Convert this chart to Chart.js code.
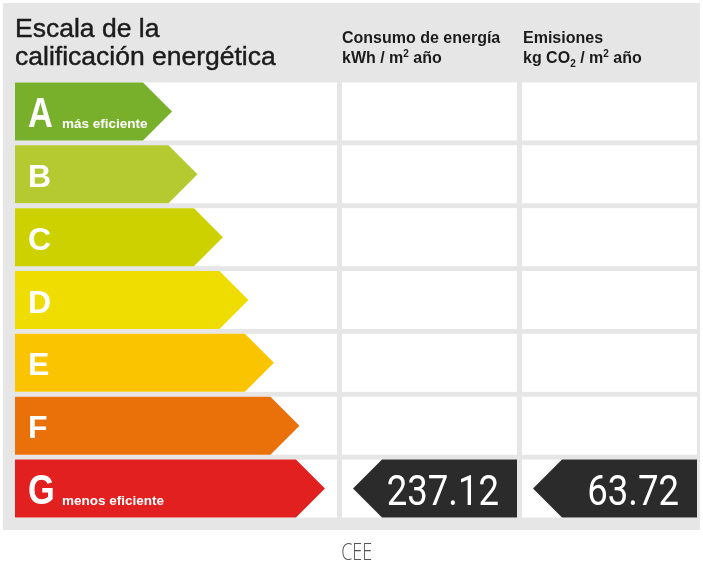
<!DOCTYPE html>
<html lang="es">
<head>
<meta charset="utf-8">
<title>Escala de la calificación energética</title>
<script src="https://cdn.jsdelivr.net/npm/chart.js@4.4.1/dist/chart.umd.min.js"></script>
<style>
  html, body { margin: 0; padding: 0; background: #fff; }
  #wrap { position: relative; width: 703px; height: 570px; overflow: hidden; }
  #grafico { position: absolute; left: 0; top: 0; }
  .cab { position: absolute; color: #1b1b1b; font-family: "Liberation Sans", Arial, sans-serif; white-space: nowrap; }
  #titulo { left: 15px; top: 14px; font-size: 26.5px; line-height: 28px; -webkit-text-stroke: 0.45px #1b1b1b; }
  .col { top: 27.5px; font-size: 16px; line-height: 20px; font-weight: bold; }
  #col1 { left: 342px; }
  #col2 { left: 523px; }
  .col sup, .col sub { font-size: 10px; line-height: 0; }
  #pie { position: absolute; left: 5px; top: 539px; width: 703px; text-align: center; }
  #pie span { display: inline-block; font-family: "Open Sans", sans-serif; font-weight: 300; font-size: 24px; line-height: 24px; color: #555; transform: scaleX(0.75); }
</style>
</head>
<body>
<div id="wrap">
  <canvas id="grafico" width="703" height="570"></canvas>
  <div class="cab" id="titulo">Escala de la<br>calificación energética</div>
  <div class="cab col" id="col1">Consumo de energía<br>kWh / m<sup>2</sup> año</div>
  <div class="cab col" id="col2">Emisiones<br>kg CO<sub>2</sub> / m<sup>2</sup> año</div>
  <div id="pie"><span>CEE</span></div>
</div>
<script>
// clases de la escala (de más a menos eficiente)
const clases = ['A', 'B', 'C', 'D', 'E', 'F', 'G'];
const pasoClase = [1, 2, 3, 4, 5, 6, 7];
const rotulos = ['más eficiente', '', '', '', '', '', 'menos eficiente'];

// resultado del certificado
const claseObtenida = 'G';
const consumo = 237.12;
const emisiones = 63.72;

const coloresClase = ['#78b02b', '#b5c930', '#cdd100', '#efdc00', '#fbc400', '#ea7109', '#e2201f'];

// columnas de la tabla (px)
const columnas = [[15, 337], [342, 517], [522, 697]];

function texto(c, t, x, y, font, sx, align) {
  c.save();
  c.translate(x, y);
  c.scale(sx, 1);
  c.font = font;
  c.textAlign = align;
  c.textBaseline = 'alphabetic';
  c.fillText(t, 0, 0);
  c.restore();
}

const tabla = {
  id: 'tabla',
  beforeDraw(chart) {
    const c = chart.ctx;
    c.save();
    c.fillStyle = '#e6e6e6';
    c.fillRect(3, 3, 697, 527);
    c.restore();
  },
  afterDatasetsDraw(chart) {
    const c = chart.ctx;
    const area = chart.chartArea;
    const barras = chart.getDatasetMeta(0).data;
    c.save();
    barras.forEach(function (b, i) {
      const h = b.height;
      const top = b.y - h / 2;
      // celdas blancas
      c.fillStyle = '#ffffff';
      columnas.forEach(function (col) {
        c.fillRect(col[0], top, col[1] - col[0], h);
      });
      // flecha de la clase
      c.fillStyle = coloresClase[i];
      c.beginPath();
      c.moveTo(area.left, top);
      c.lineTo(b.x - h / 2, top);
      c.lineTo(b.x, b.y);
      c.lineTo(b.x - h / 2, top + h);
      c.lineTo(area.left, top + h);
      c.closePath();
      c.fill();
      // letra
      c.fillStyle = '#ffffff';
      if (rotulos[i]) {
        texto(c, clases[i], area.left + 13, b.y + 15.5, 'bold 43px "Liberation Sans", Arial, sans-serif', 0.8, 'left');
        texto(c, rotulos[i], area.left + 47, b.y + 16.5, 'bold 13.5px "Liberation Sans", Arial, sans-serif', 1, 'left');
      } else {
        texto(c, clases[i], area.left + 13, b.y + 12.5, 'bold 32px "Liberation Sans", Arial, sans-serif', 1, 'left');
      }
    });

    // indicadores del certificado
    const b = barras[clases.indexOf(claseObtenida)];
    const h = b.height;
    const top = b.y - h / 2;
    [consumo, emisiones].forEach(function (v, k) {
      const col = columnas[k + 1];
      const punta = col[0] + 11;
      c.fillStyle = '#2b2b2b';
      c.beginPath();
      c.moveTo(punta, b.y);
      c.lineTo(punta + h / 2, top);
      c.lineTo(col[1], top);
      c.lineTo(col[1], top + h);
      c.lineTo(punta + h / 2, top + h);
      c.closePath();
      c.fill();
      c.fillStyle = '#ffffff';
      texto(c, v.toFixed(2), col[1] - 18, b.y + 16, '42px Roboto, "Liberation Sans", sans-serif', 0.87, 'right');
    });
    c.restore();
  }
};

var ctx = document.getElementById('grafico').getContext('2d');

var grafico = new Chart(ctx, {
  type: 'bar',
  data: {
    labels: clases,
    datasets: [{
      data: pasoClase,
      backgroundColor: 'rgba(0,0,0,0)',
      borderWidth: 0,
      barPercentage: 0.9227,
      categoryPercentage: 1
    }]
  },
  options: {
    indexAxis: 'y',
    responsive: false,
    animation: false,
    devicePixelRatio: 1,
    events: [],
    layout: { padding: { left: 15, right: 6, top: 80, bottom: 50 } },
    plugins: { legend: { display: false }, tooltip: { enabled: false } },
    scales: {
      x: { type: 'linear', min: -5.16, max: 21.6, display: false },
      y: { type: 'category', display: false }
    }
  },
  plugins: [tabla]
});
</script>
</body>
</html>
